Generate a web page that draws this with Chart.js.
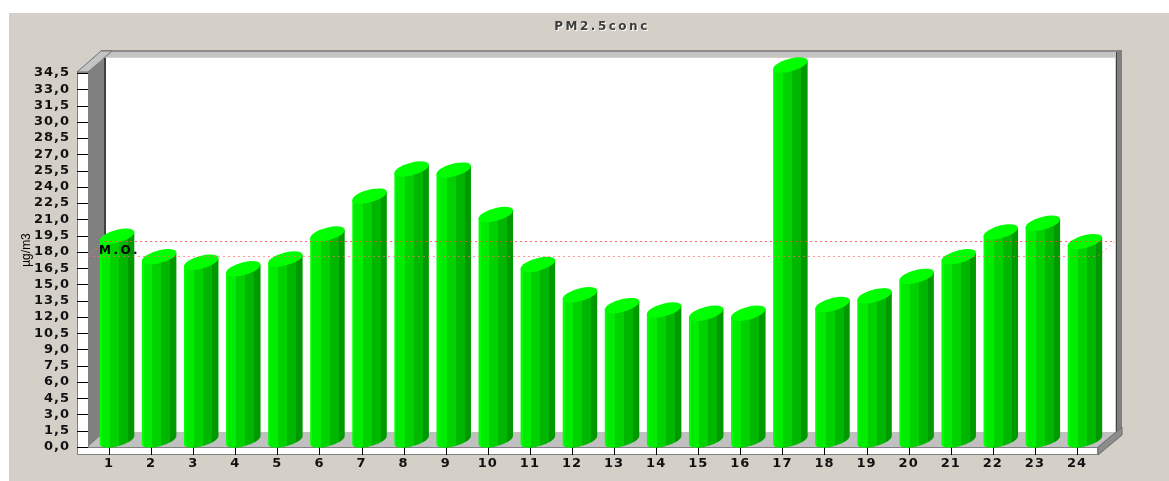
<!DOCTYPE html>
<html>
<head>
<meta charset="utf-8">
<script src="https://cdn.jsdelivr.net/npm/chart.js@4.4.0/dist/chart.umd.min.js"></script>
<style>
  html, body { margin: 0; padding: 0; background: #fff; }
  canvas { display: block; }
</style>
</head>
<body>
<canvas id="pmChart" width="1169" height="481"></canvas>
<script>
// hourly values
const hours = ['1','2','3','4','5','6','7','8','9','10','11','12','13','14','15','16','17','18','19','20','21','22','23','24'];
const pm25Values = [18.8, 16.9, 16.4, 15.8, 16.7, 19.0, 22.5, 25.0, 24.9, 20.8, 16.2, 13.4, 12.4, 12.0, 11.7, 11.7, 34.6, 12.5, 13.3, 15.1, 16.9, 19.2, 20.0, 18.3];
const moValue = 17.6; // M.O. line
const yMax = 34.5;
const yStep = 1.5;
const chartTitle = 'PM2.5conc';
const yTitle = 'µg/m3';
const moLabel = 'M.O.';

const DX = 17, DY = -15;   // depth of the back wall
const BX = 8, BY = -7;     // where the cylinders sit in depth

function drawCylinder(ctx, cx, top, base, rx) {
    const ry = 6.5, k = 0.235;
    ctx.save();
    ctx.transform(1, -k, 0, 1, 0, k * cx);
    const g = ctx.createLinearGradient(cx - rx, 0, cx + rx, 0);
    const bands = [[0, 0.06, '#00ff00'], [0.06, 0.3, '#00ec00'], [0.3, 0.56, '#00d200'], [0.56, 0.82, '#00b600'], [0.82, 1, '#009a00']];
    bands.forEach(b => { g.addColorStop(b[0], b[2]); g.addColorStop(b[1], b[2]); });
    ctx.fillStyle = g;
    ctx.beginPath();
    ctx.moveTo(cx - rx, top);
    ctx.lineTo(cx - rx, base);
    ctx.ellipse(cx, base, rx, ry, 0, Math.PI, 0, true);
    ctx.lineTo(cx + rx, top);
    ctx.closePath();
    ctx.fill();
    ctx.beginPath();
    ctx.ellipse(cx, top, rx, ry, 0, 0, Math.PI * 2);
    ctx.fillStyle = '#00ff00';
    ctx.fill();
    ctx.restore();
}

const backgroundPlugin = {
    id: 'panel',
    beforeDraw(chart) {
        const ctx = chart.ctx;
        ctx.save();
        ctx.fillStyle = '#ffffff';
        ctx.fillRect(0, 0, chart.width, chart.height);
        ctx.fillStyle = '#d4d0c8';
        ctx.fillRect(9, 13, chart.width - 9, chart.height - 13);
        // title, embossed
        ctx.font = 'bold 12px "DejaVu Sans"';
        ctx.letterSpacing = '2.5px';
        ctx.textAlign = 'center';
        ctx.textBaseline = 'alphabetic';
        ctx.fillStyle = '#ffffff';
        ctx.fillText(chartTitle, 603, 31);
        ctx.fillStyle = '#3c3c3c';
        ctx.fillText(chartTitle, 602, 30);
        ctx.restore();
        // the tick labels are spaced out a bit
        ctx.letterSpacing = '1px';
    }
};

const framePlugin = {
    id: 'frame3d',
    beforeDatasetsDraw(chart) {
        const ctx = chart.ctx;
        ctx.letterSpacing = '0px';
        const {left: L, right: R, top: T, bottom: B} = chart.chartArea;
        const yScale = chart.scales.y;
        const xScale = chart.scales.x;
        ctx.save();
        ctx.lineWidth = 1;

        // back wall
        ctx.fillStyle = '#ffffff';
        ctx.fillRect(L + DX, T + DY, R - L, B - T);

        // top edge
        ctx.fillStyle = '#c4c4c4';
        ctx.fillRect(L + 13, 50, R + 24 - L - 13, 7);
        ctx.fillStyle = '#8c8c8c';
        ctx.fillRect(L + 13, 50, R + 24 - L - 13, 2);
        ctx.beginPath();
        ctx.moveTo(L - 11, T - 1);
        ctx.lineTo(L + 13, 51);
        ctx.lineTo(L + 24, 51);
        ctx.lineTo(L, T - 1);
        ctx.closePath();
        ctx.fillStyle = '#c4c4c4';
        ctx.fill();
        ctx.strokeStyle = '#707070';
        ctx.stroke();

        // left wall
        ctx.beginPath();
        ctx.moveTo(L, T - 1);
        ctx.lineTo(L + DX, T + DY);
        ctx.lineTo(L + DX, B + DY);
        ctx.lineTo(L, B);
        ctx.closePath();
        ctx.fillStyle = '#808080';
        ctx.fill();
        ctx.fillStyle = '#404040';
        ctx.fillRect(L + DX - 1, T + DY, 2, B - T);

        // right wall
        ctx.fillStyle = '#808080';
        ctx.fillRect(R + DX + 2, 50, 5, B + DY - 50);
        ctx.fillStyle = '#404040';
        ctx.fillRect(R + DX + 1, 52, 1, B + DY - 52);

        // floor
        ctx.beginPath();
        ctx.moveTo(L, B);
        ctx.lineTo(L + DX, B + DY);
        ctx.lineTo(R + DX + 2, B + DY);
        ctx.lineTo(R, B);
        ctx.closePath();
        ctx.fillStyle = '#c0c0c0';
        ctx.fill();
        ctx.beginPath();
        ctx.moveTo(R, B);
        ctx.lineTo(R + 24, B - 20);
        ctx.lineTo(R + 24, B - 12);
        ctx.lineTo(R, B + 8);
        ctx.closePath();
        ctx.fillStyle = '#8c8c8c';
        ctx.fill();
        ctx.strokeStyle = '#6a6a6a';
        ctx.stroke();

        // front strips with tick marks
        ctx.fillStyle = '#ffffff';
        ctx.strokeStyle = '#808080';
        ctx.fillRect(L - 11, T - 1, 11, B - T + 9);
        ctx.strokeRect(L - 10.5, T - 0.5, 11, B - T + 8);
        ctx.fillRect(L - 11, B, R - L + 11, 8);
        ctx.strokeRect(L - 10.5, B + 0.5, R - L + 10, 7);

        ctx.strokeStyle = '#000000';
        ctx.beginPath();
        yScale.ticks.forEach(t => {
            const y = Math.round(yScale.getPixelForValue(t.value)) + 0.5;
            ctx.moveTo(L - 11, y);
            ctx.lineTo(L, y);
        });
        hours.forEach((h, i) => {
            const x = Math.round(xScale.getPixelForValue(i)) + 0.5;
            ctx.moveTo(x, B);
            ctx.lineTo(x, B + 8);
        });
        ctx.stroke();
        ctx.restore();
    },
    afterDatasetsDraw(chart) {
        const ctx = chart.ctx;
        const meta = chart.getDatasetMeta(0);
        const {left: L, right: R} = chart.chartArea;
        meta.data.forEach(bar => {
            drawCylinder(ctx, bar.x + BX, bar.y + BY, bar.base + BY, bar.width / 2);
        });

        // M.O. line, front and back
        const yMo = chart.scales.y.getPixelForValue(moValue);
        ctx.save();
        ctx.lineWidth = 1;
        ctx.setLineDash([2, 3]);
        ctx.strokeStyle = 'rgba(255, 70, 70, 0.8)';
        ctx.beginPath();
        ctx.moveTo(L + DX, Math.round(yMo + DY) + 0.5);
        ctx.lineTo(R + DX, Math.round(yMo + DY) + 0.5);
        ctx.stroke();
        ctx.strokeStyle = 'rgba(255, 110, 110, 0.7)';
        ctx.beginPath();
        ctx.moveTo(L, Math.round(yMo) + 0.5);
        ctx.lineTo(R, Math.round(yMo) + 0.5);
        ctx.moveTo(L, yMo);
        ctx.lineTo(L + DX, yMo + DY);
        ctx.moveTo(R, yMo);
        ctx.lineTo(R + DX, yMo + DY);
        ctx.stroke();
        ctx.setLineDash([]);

        ctx.fillStyle = '#000000';
        ctx.font = 'bold 12px "DejaVu Sans"';
        ctx.letterSpacing = '2.5px';
        ctx.textAlign = 'left';
        ctx.textBaseline = 'alphabetic';
        ctx.fillText(moLabel, 99, 254);
        ctx.letterSpacing = '0px';

        // y axis title
        ctx.translate(30, 250);
        ctx.rotate(-Math.PI / 2);
        ctx.font = '12px "Liberation Sans"';
        ctx.textAlign = 'center';
        ctx.fillText(yTitle, 0, 0);
        ctx.restore();
    }
};

const ctx = document.getElementById('pmChart').getContext('2d');
const tickFont = { family: 'DejaVu Sans', size: 13, weight: 'bold' };

const pmChart = new Chart(ctx, {
    type: 'bar',
    data: {
        labels: hours,
        datasets: [{
            label: chartTitle,
            data: pm25Values,
            backgroundColor: 'rgba(0,0,0,0)',
            borderWidth: 0,
            categoryPercentage: 1,
            barPercentage: 0.82
        }]
    },
    options: {
        responsive: false,
        animation: false,
        devicePixelRatio: 1,
        layout: { padding: { left: 0, right: 71, top: 73, bottom: 0 } },
        plugins: {
            legend: { display: false },
            tooltip: { enabled: false },
            title: { display: false }
        },
        scales: {
            x: {
                grid: { display: false, drawTicks: false },
                border: { display: false },
                ticks: {
                    color: '#111111',
                    font: tickFont,
                    padding: 9,
                    maxRotation: 0,
                    autoSkip: false
                },
                afterFit(scale) { scale.height = 34; }
            },
            y: {
                min: 0,
                max: yMax,
                grid: { display: false, drawTicks: false },
                border: { display: false },
                ticks: {
                    stepSize: yStep,
                    autoSkip: false,
                    color: '#111111',
                    font: tickFont,
                    padding: 18,
                    callback: v => v.toFixed(1).replace('.', ',')
                },
                afterFit(scale) { scale.width = 88; }
            }
        }
    },
    plugins: [backgroundPlugin, framePlugin]
});
</script>
</body>
</html>
